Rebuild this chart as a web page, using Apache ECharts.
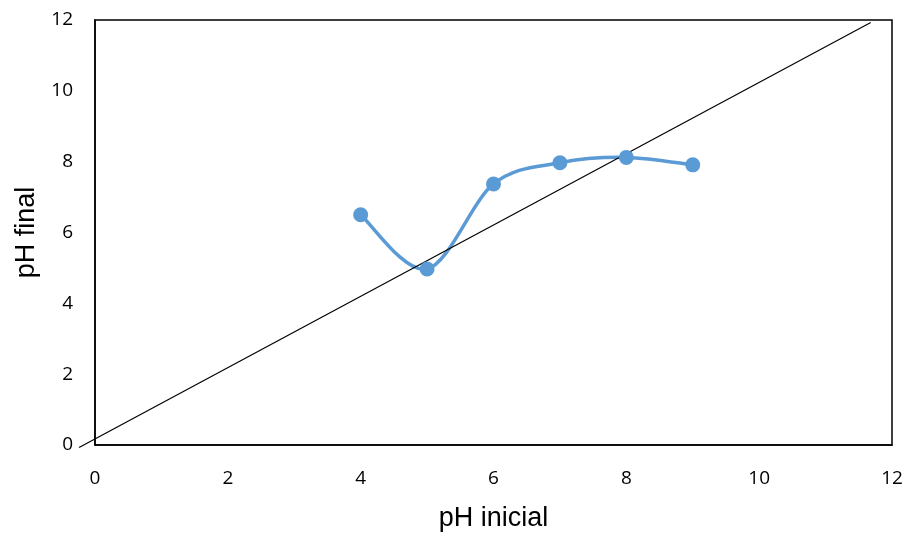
<!DOCTYPE html>
<html>
<head>
<meta charset="utf-8">
<script src="https://cdn.jsdelivr.net/npm/echarts@6/dist/echarts.min.js"></script>
<style>html,body{margin:0;padding:0;background:#fff;overflow:hidden}#c{width:910px;height:538px}</style>
</head>
<body>
<div id="c"></div>
<script>
var phInicial = [4, 5, 6, 7, 8, 9];
var phFinal = [6.50, 4.97, 7.37, 7.97, 8.12, 7.91];
var refLineX = [-0.24, 11.68];
var refLineY = [-0.07, 11.93];
var xTitle = 'pH inicial';
var yTitle = 'pH final';

var chart = echarts.init(document.getElementById('c'));
var tickFont = {color: '#000', fontSize: 19, fontFamily: 'Open Sans, Noto Sans, sans-serif'};

function curveRender(params, api) {
  if (params.dataIndex !== 0) return null;
  var pts = phInicial.map(function(x, i){ return api.coord([x, phFinal[i]]); });
  var n = pts.length;
  var d = 'M' + pts[0][0] + ' ' + pts[0][1];
  for (var i = 0; i < n - 1; i++) {
    var p0 = pts[Math.max(i - 1, 0)], p1 = pts[i], p2 = pts[i + 1], p3 = pts[Math.min(i + 2, n - 1)];
    var c1x = p1[0] + (p2[0] - p0[0]) / 6, c1y = p1[1] + (p2[1] - p0[1]) / 6;
    var c2x = p2[0] - (p3[0] - p1[0]) / 6, c2y = p2[1] - (p3[1] - p1[1]) / 6;
    d += ' C' + c1x + ' ' + c1y + ' ' + c2x + ' ' + c2y + ' ' + p2[0] + ' ' + p2[1];
  }
  return {type: 'path', shape: {pathData: d}, style: {fill: null, stroke: '#5B9BD5', lineWidth: 3.5}};
}

function refRender(params, api) {
  if (params.dataIndex !== 0) return null;
  var a = api.coord([refLineX[0], refLineY[0]]);
  var b = api.coord([refLineX[1], refLineY[1]]);
  return {type: 'line', shape: {x1: a[0], y1: a[1], x2: b[0], y2: b[1]}, style: {stroke: '#000', lineWidth: 1.2}};
}

chart.setOption({
  animation: false,
  grid: {left: 95, width: 797, top: 20, height: 425, show: true, borderColor: '#000', borderWidth: 1.5, containLabel: false},
  xAxis: {
    type: 'value', min: 0, max: 12, interval: 2,
    name: xTitle, nameLocation: 'middle', nameGap: 60,
    nameTextStyle: {color: '#000', fontSize: 27, fontFamily: 'Liberation Sans, Arial, sans-serif'},
    axisLine: {show: true, onZero: false, lineStyle: {color: '#000', width: 1.5}},
    axisTick: {show: false},
    splitLine: {show: false},
    axisLabel: Object.assign({margin: 24}, tickFont)
  },
  yAxis: {
    type: 'value', min: 0, max: 12, interval: 2,
    name: yTitle, nameLocation: 'middle', nameGap: 54,
    nameTextStyle: {color: '#000', fontSize: 27, fontFamily: 'Liberation Sans, Arial, sans-serif'},
    axisLine: {show: true, onZero: false, lineStyle: {color: '#000', width: 1.5}},
    axisTick: {show: false},
    splitLine: {show: false},
    axisLabel: Object.assign({margin: 22}, tickFont)
  },
  series: [
    {
      type: 'custom',
      clip: false,
      data: refLineX.map(function(x, i){ return [x, refLineY[i]]; }),
      encode: {x: 0, y: 1},
      renderItem: refRender,
      silent: true,
      z: 3
    },
    {
      type: 'custom',
      clip: false,
      data: phInicial.map(function(x, i){ return [x, phFinal[i]]; }),
      encode: {x: 0, y: 1},
      renderItem: curveRender,
      silent: true,
      z: 2
    },
    {
      type: 'scatter',
      data: phInicial.map(function(x, i){ return [x, phFinal[i]]; }),
      symbol: 'circle',
      symbolSize: 15,
      itemStyle: {color: '#5B9BD5', opacity: 1},
      z: 4
    }
  ]
});
</script>
</body>
</html>
